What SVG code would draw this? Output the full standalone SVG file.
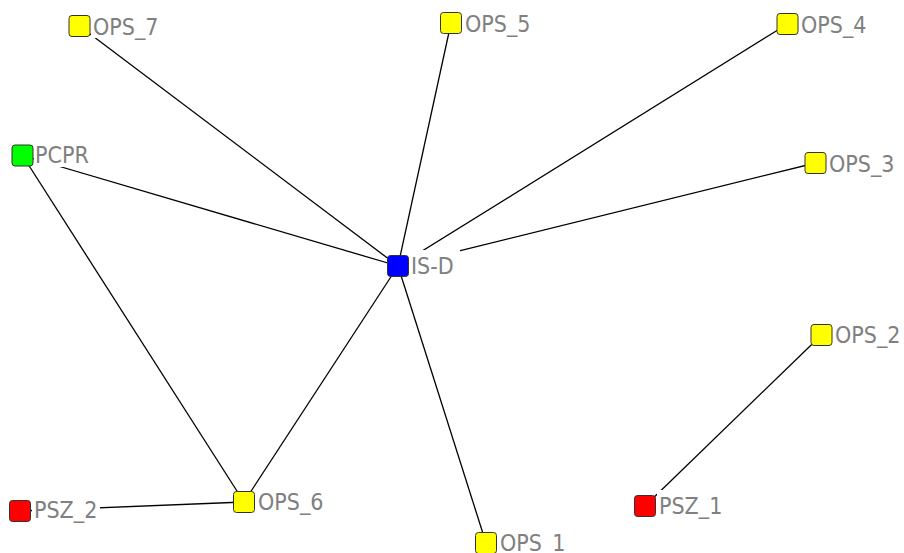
<svg xmlns="http://www.w3.org/2000/svg" width="904" height="553" viewBox="0 0 904 553">
<style>
.e{stroke:#000;stroke-width:1.3;fill:none}
.n{stroke:#333;stroke-width:1}
.bg{fill:#fff}
.t{font-family:"DejaVu Sans Condensed","DejaVu Sans",sans-serif;font-size:23px;fill:#808080}
</style>
<rect width="904" height="553" fill="#fff"/>
<g id="connectors">
<line class="e" x1="79.5" y1="26" x2="398" y2="266"/>
<line class="e" x1="451" y1="23" x2="398" y2="266"/>
<line class="e" x1="787.5" y1="24" x2="398" y2="266"/>
<line class="e" x1="815.5" y1="163" x2="398" y2="266"/>
<line class="e" x1="22.5" y1="155.5" x2="398" y2="266"/>
<line class="e" x1="22.5" y1="155.5" x2="244" y2="502"/>
<line class="e" x1="398" y1="266" x2="244" y2="502"/>
<line class="e" x1="398" y1="266" x2="486" y2="543"/>
<line class="e" x1="20" y1="511" x2="244" y2="502"/>
<line class="e" x1="821.5" y1="335" x2="645" y2="506"/>
</g>
<g id="OPS_7"><rect class="bg" x="91" y="10" width="72" height="28"/><rect class="n" x="69" y="15.5" width="21" height="21" rx="3" fill="#ffff00"/><text class="t" x="93" y="35">OPS_7</text></g>
<g id="OPS_5"><rect class="bg" x="463" y="7" width="72" height="28"/><rect class="n" x="440.5" y="12.5" width="21" height="21" rx="3" fill="#ffff00"/><text class="t" x="465" y="32">OPS_5</text></g>
<g id="OPS_4"><rect class="bg" x="799" y="8" width="72" height="28"/><rect class="n" x="777" y="13.5" width="21" height="21" rx="3" fill="#ffff00"/><text class="t" x="801" y="33">OPS_4</text></g>
<g id="PCPR"><rect class="bg" x="34" y="139" width="48" height="28"/><rect class="n" x="12" y="145" width="21" height="21" rx="3" fill="#00ff00"/><text class="t" x="35" y="163">PCPR</text></g>
<g id="OPS_3"><rect class="bg" x="827" y="147" width="72" height="28"/><rect class="n" x="805" y="152.5" width="21" height="21" rx="3" fill="#ffff00"/><text class="t" x="829" y="172">OPS_3</text></g>
<g id="IS-D"><rect class="bg" x="409" y="250" width="51" height="28"/><rect class="n" x="387.5" y="255.5" width="21" height="21" rx="3" fill="#0000ff"/><text class="t" x="411" y="274">IS-D</text></g>
<g id="OPS_2"><rect class="bg" x="833" y="319" width="71" height="28"/><rect class="n" x="811" y="324.5" width="21" height="21" rx="3" fill="#ffff00"/><text class="t" x="835" y="343">OPS_2</text></g>
<g id="PSZ_1"><rect class="bg" x="657" y="490" width="70" height="28"/><rect class="n" x="634.5" y="495.5" width="21" height="21" rx="3" fill="#ff0000"/><text class="t" x="659" y="514">PSZ_1</text></g>
<g id="OPS_1"><rect class="bg" x="497" y="527" width="72" height="28"/><rect class="n" x="475.5" y="532.5" width="21" height="21" rx="3" fill="#ffff00"/><text class="t" x="500" y="551">OPS_1</text></g>
<g id="PSZ_2"><rect class="bg" x="32" y="495" width="68" height="28"/><rect class="n" x="9.5" y="500.5" width="21" height="21" rx="3" fill="#ff0000"/><text class="t" x="34" y="518">PSZ_2</text></g>
<g id="OPS_6"><rect class="bg" x="256" y="486" width="72" height="28"/><rect class="n" x="233.5" y="491.5" width="21" height="21" rx="3" fill="#ffff00"/><text class="t" x="258" y="510">OPS_6</text></g>
</svg>
